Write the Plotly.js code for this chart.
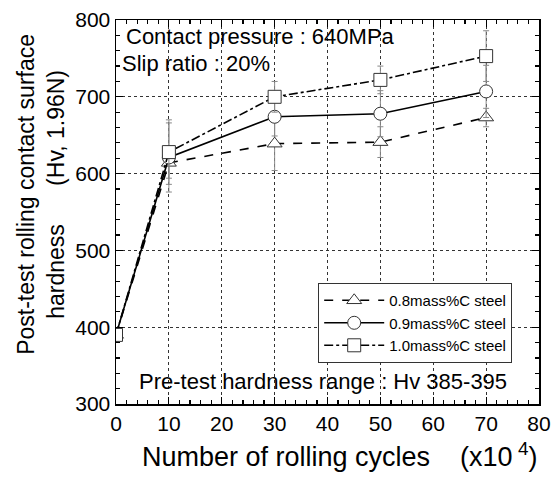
<!DOCTYPE html>
<html><head><meta charset="utf-8">
<script src="https://cdn.plot.ly/plotly-3.0.1.min.js"></script>
<style>html,body{margin:0;padding:0;background:#fff}#chart{width:554px;height:477px}</style>
</head><body><div id="chart"></div>
<script>
var cycles = [0, 10, 30, 50, 70];
var steel08 = [390, 614, 639, 641, 673];
var err08 = [0, 20, 35, 20, 12];
var steel09 = [390, 621, 674, 678, 707];
var err09 = [0, 45, 25, 30, 34];
var steel10 = [390, 628, 700, 722, 753];
var err10 = [0, 42, 20, 18, 33];
var names = ['0.8mass%C steel', '0.9mass%C steel', '1.0mass%C steel'];

var F = 'Arial, "Liberation Sans", sans-serif';
function tr(y, e, name, dash, sym) {
  return {
    x: cycles, y: y, name: name, mode: 'lines+markers', type: 'scatter',
    line: {color: '#000', width: 1.6, dash: dash},
    marker: {symbol: sym, size: 13, color: '#fff', line: {color: '#333', width: 1}},
    error_y: {type: 'data', array: e, visible: true, color: '#888', thickness: 1, width: 3}
  };
}
var data = [
  tr(steel08, err08, names[0], 'dash', 'triangle-up'),
  tr(steel09, err09, names[1], 'solid', 'circle'),
  tr(steel10, err10, names[2], 'dashdot', 'square')
];

var axisCommon = {
  showline: true, linecolor: '#000', linewidth: 1.5, mirror: 'allticks',
  ticks: 'inside', ticklen: 7, tickwidth: 1.2, tickcolor: '#000',
  showgrid: true, gridcolor: '#333', gridwidth: 1, griddash: 'dot',
  zeroline: false, tickfont: {family: F, size: 21, color: '#000'}
};
var layout = {
  width: 554, height: 477,
  margin: {l: 116, r: 15, t: 20, b: 73},
  paper_bgcolor: '#fff', plot_bgcolor: '#fff',
  font: {family: F, color: '#000'},
  showlegend: true,
  legend: {x: 0.478, y: 0.315, xanchor: 'left', yanchor: 'top',
    bgcolor: '#fff', bordercolor: '#333', borderwidth: 1, itemwidth: 60,
    font: {family: F, size: 15, color: '#000'}, tracegroupgap: 0},
  xaxis: Object.assign({}, axisCommon, {
    range: [0, 80], dtick: 10, tick0: 0,
    minor: {ticks: 'inside', dtick: 2, ticklen: 4, tickcolor: '#000', showgrid: false}
  }),
  yaxis: Object.assign({}, axisCommon, {
    range: [300, 800], dtick: 100, tick0: 300,
    minor: {ticks: 'inside', dtick: 20, ticklen: 4, tickcolor: '#000', showgrid: false}
  }),
  annotations: [
    {text: 'Post-test rolling contact surface<br>hardness\u00a0\u00a0\u00a0\u00a0\u00a0\u00a0(Hv, 1.96N)', xref: 'paper', yref: 'paper', x: -0.177, y: 0.545, xanchor: 'center', yanchor: 'middle', textangle: -90, showarrow: false, font: {family: F, size: 23, color: '#000'}},
    {text: 'Number of rolling cycles\u00a0\u00a0\u00a0\u00a0(x10<sup> 4</sup>)', xref: 'paper', yref: 'paper', x: 0.057, y: -0.133, xanchor: 'left', yanchor: 'middle', showarrow: false, font: {family: F, size: 27, color: '#000'}},
    {text: 'Contact pressure : 640MPa', xref: 'paper', yref: 'paper', x: 0.02, y: 0.995, xanchor: 'left', yanchor: 'top', showarrow: false, font: {family: F, size: 22, color: '#000'}},
    {text: 'Slip ratio : 20%', xref: 'paper', yref: 'paper', x: 0.01, y: 0.925, xanchor: 'left', yanchor: 'top', showarrow: false, font: {family: F, size: 22, color: '#000'}},
    {text: 'Pre-test hardness range : Hv 385-395', xref: 'paper', yref: 'paper', x: 0.49, y: 0.058, xanchor: 'center', yanchor: 'middle', showarrow: false, font: {family: F, size: 22, color: '#000'}}
  ]
};
Plotly.newPlot('chart', data, layout, {displayModeBar: false, staticPlot: true});
</script></body></html>
